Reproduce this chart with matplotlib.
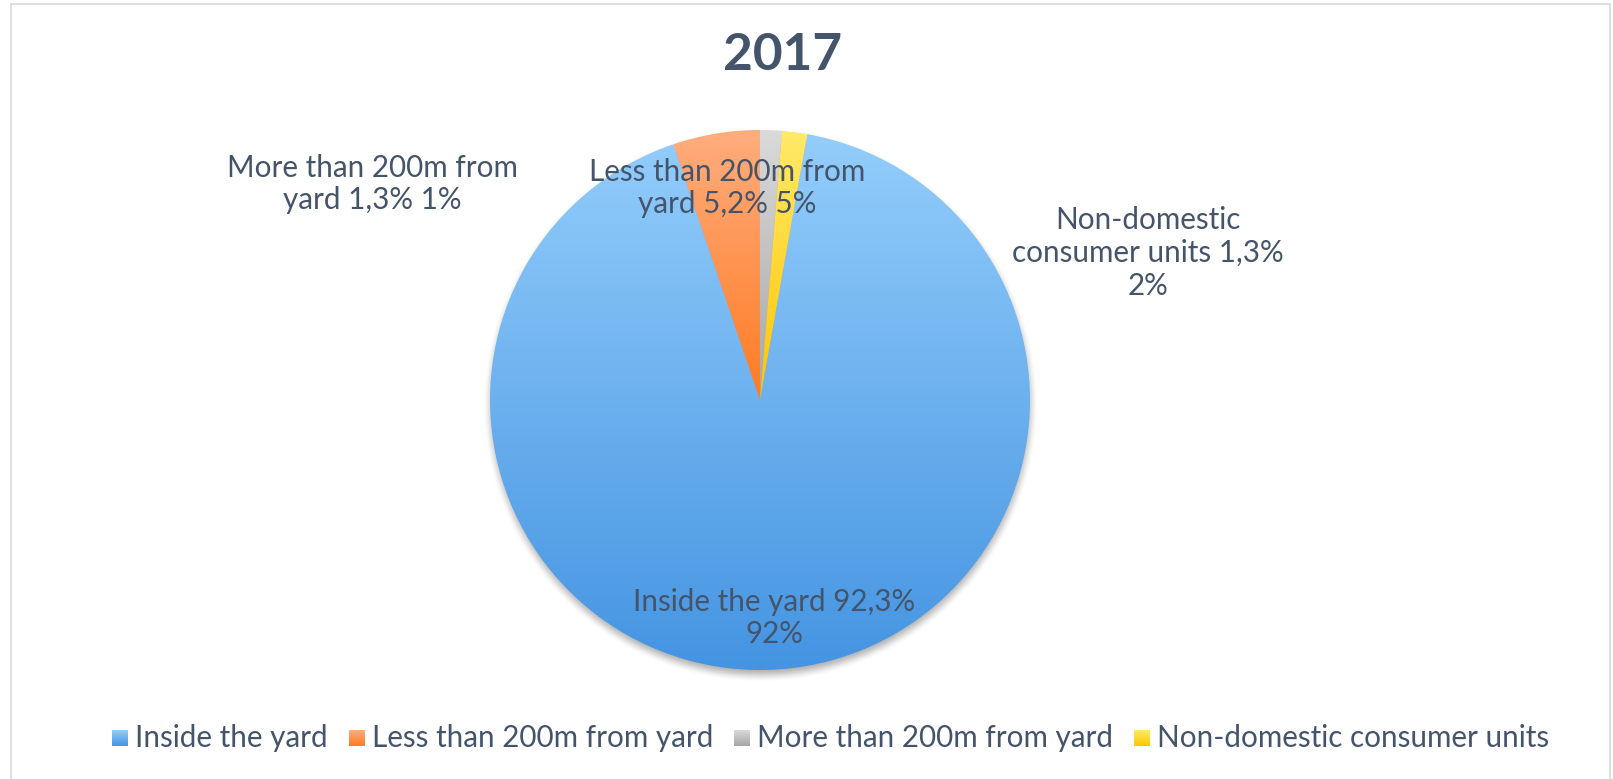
import numpy as np
import matplotlib
matplotlib.use('Agg')
import matplotlib.pyplot as plt
from matplotlib.colors import LinearSegmentedColormap
from matplotlib.patches import Rectangle

plt.rcParams['font.family'] = ['Lato', 'DejaVu Sans']

# 数据
title = '2017'
categories = ['Inside the yard', 'Less than 200m from yard',
              'More than 200m from yard', 'Non-domestic consumer units']
values = [92.0, 5.2, 1.3, 1.5]
label_texts = ['Inside the yard 92,3%\n{}%',
               'Less than 200m from\nyard 5,2% {}%',
               'More than 200m from\nyard 1,3% {}%',
               'Non-domestic\nconsumer units 1,3%\n{}%']
# 每个扇形的渐变色（上浅下深）
grad_colors = [('#93CDFB', '#4594E2'),
               ('#FFAD7E', '#FF7A22'),
               ('#DADADA', '#A6A6A6'),
               ('#FFEA6A', '#FFC500')]

text_color = '#44546A'
W, H = 1613, 779
R_PX = 270.0
CX, CY = 760.0, 400.0


def px(x, y):
    # 像素坐标 -> 数据坐标（饼图半径为1）
    return (x - CX) / R_PX, (CY - y) / R_PX


fig = plt.figure(figsize=(W / 100, H / 100), dpi=100)
ax = fig.add_axes([0, 0, 1, 1])

total = sum(values)
pcts = [int(np.floor(100 * v / total + 0.5 + 1e-9)) for v in values]

# 灰色和黄色扇形从正上方开始顺时针排列
theta = (values[2] + values[3]) / total * 360
wedges, _ = ax.pie(values, startangle=90 - theta, counterclock=False,
                   radius=1, center=(0, 0), wedgeprops=dict(linewidth=0))

for w, (c1, c2) in zip(wedges, grad_colors):
    w.set_facecolor('none')
    bb = w.get_path().get_extents(w.get_transform() - ax.transData)
    cmap = LinearSegmentedColormap.from_list('g', [c1, c2])
    grad = np.linspace(0, 1, 256).reshape(-1, 1)
    im = ax.imshow(grad, cmap=cmap, aspect='auto', origin='upper',
                   extent=[bb.x0, bb.x1, bb.y0, bb.y1], zorder=2,
                   interpolation='bilinear')
    im.set_clip_path(w)

# 阴影
gx = np.linspace(-1.15, 1.15, 600)
gy = np.linspace(-1.15, 1.15, 600)
X, Y = np.meshgrid(gx, gy)
d = np.sqrt(X ** 2 + (Y + 0.02) ** 2)
blur = 0.03
a = np.clip((1 + blur - d) / (2 * blur), 0, 1)
a = a * a * (3 - 2 * a) * 0.35
shadow = np.zeros((600, 600, 4))
shadow[..., 3] = a
ax.imshow(shadow, extent=[-1.15, 1.15, -1.15, 1.15], origin='lower',
          zorder=1, aspect='auto')

# 数据标签
label_pos = [(774, 618), (727, 188), (372, 184), (1148, 253)]
for (lx, ly), t, p in zip(label_pos, label_texts, pcts):
    x, y = px(lx, ly)
    ax.text(x, y, t.format(p), ha='center', va='center', fontsize=21.3,
            color=text_color, linespacing=1.2, zorder=5)

# 标题
tx, ty = px(783, 55)
ax.text(tx, ty, title, ha='center', va='center', fontsize=37,
        fontweight='bold', color=text_color, zorder=5)

ax.set_xlim(px(0, 0)[0], px(W, 0)[0])
ax.set_ylim(px(0, H)[1], px(0, 0)[1])
ax.set_aspect('auto')
ax.axis('off')

# 图表边框
x0, y0 = px(11, 4)
x1, y1 = px(1610, 800)
ax.add_patch(Rectangle((x0, y1), x1 - x0, y0 - y1, fill=False,
                       edgecolor='#D9D9D9', linewidth=1.2, zorder=0))

# 图例（渐变色方块 + 文字）
fig.canvas.draw()
renderer = fig.canvas.get_renderer()
sq = 16.0
lx = 112.0
ly = 738.0
for name, (c1, c2) in zip(categories, grad_colors):
    cmap = LinearSegmentedColormap.from_list('g', [c1, c2])
    grad = np.linspace(0, 1, 64).reshape(-1, 1)
    ax0, ay0 = px(lx, ly + sq / 2)
    ax1, ay1 = px(lx + sq, ly - sq / 2)
    ax.imshow(grad, cmap=cmap, aspect='auto', origin='upper',
              extent=[ax0, ax1, ay0, ay1], zorder=5)
    tx, ty = px(lx + sq + 7, ly)
    t = ax.text(tx, ty, name, ha='left', va='center', fontsize=21.3,
                color=text_color, zorder=5)
    tw = t.get_window_extent(renderer).width
    lx = lx + sq + 7 + tw + 21

ax.set_xlim(px(0, 0)[0], px(W, 0)[0])
ax.set_ylim(px(0, H)[1], px(0, 0)[1])

fig.savefig('out.png', dpi=100)
